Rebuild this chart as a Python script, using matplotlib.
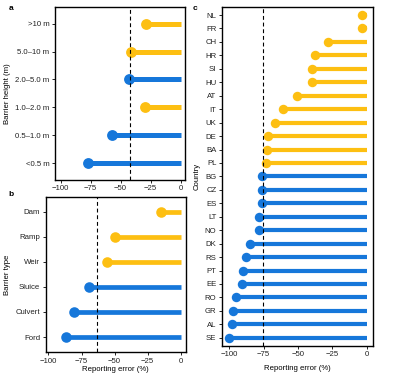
import matplotlib.pyplot as plt

plt.rcParams['font.family'] = ['Liberation Sans', 'DejaVu Sans']
plt.rcParams['font.size'] = 5.6

YELLOW = '#FDBF12'
BLUE = '#1677DA'

# panel a: barrier height
height_labels = ['>10 m', '5.0–10 m', '2.0–5.0 m', '1.0–2.0 m', '0.5–1.0 m', '<0.5 m']
height_error = [-29, -41, -43, -30, -57, -77]
height_mean = -42

# panel b: barrier type
type_labels = ['Dam', 'Ramp', 'Weir', 'Sluice', 'Culvert', 'Ford']
type_error = [-15, -50, -56, -69, -81, -87]
type_mean = -63

# panel c: country
country_labels = ['NL', 'FR', 'CH', 'HR', 'SI', 'HU', 'AT', 'IT', 'UK', 'DE', 'BA', 'PL', 'BG',
                  'CZ', 'ES', 'LT', 'NO', 'DK', 'RS', 'PT', 'EE', 'RO', 'GR', 'AL', 'SE']
country_error = [-3, -3, -28, -37.5, -40, -40, -51, -60.5, -67, -71.5, -72.5, -73.5, -76.5,
                 -76.5, -76.5, -78, -78, -85, -87.5, -90, -91, -95, -97, -98, -100]
country_mean = -75.5


def lollipop(ax, labels, values, mean, xlim, dot, lw):
    n = len(labels)
    ys = list(range(n - 1, -1, -1))
    for y, v in zip(ys, values):
        c = YELLOW if v > mean else BLUE
        ax.plot([v, 0], [y, y], color=c, lw=lw, solid_capstyle='butt', zorder=2)
        ax.plot(v, y, 'o', color=c, ms=dot, mew=0, zorder=3)
    ax.axvline(mean, color='black', lw=0.8, ls=(0, (3.5, 2.5)), zorder=4)
    ax.set_yticks(ys)
    ax.set_yticklabels(labels)
    ax.set_ylim(-0.6, n - 0.4)
    ax.set_xlim(*xlim)
    ax.set_xticks([-100, -75, -50, -25, 0])
    ax.set_xticklabels(['−100', '−75', '−50', '−25', '0'])
    ax.tick_params(length=2, width=0.6, pad=2, colors='black', labelcolor='#222222')
    for s in ax.spines.values():
        s.set_linewidth(1.0)


fig = plt.figure(figsize=(3.95, 3.86), dpi=100)

ax_a = fig.add_axes([0.139, 0.534, 0.329, 0.448])
lollipop(ax_a, height_labels, height_error, height_mean, (-104.7, 3.6), 7.8, 3.6)
ax_a.set_ylabel('Barrier height (m)', labelpad=3)

ax_b = fig.add_axes([0.116, 0.088, 0.354, 0.402])
lollipop(ax_b, type_labels, type_error, type_mean, (-102, 3.8), 7.6, 3.4)
ax_b.set_ylabel('Barrier type', labelpad=3)
ax_b.set_xlabel('Reporting error (%)', labelpad=1)

ax_c = fig.add_axes([0.562, 0.104, 0.382, 0.878])
lollipop(ax_c, country_labels, country_error, country_mean, (-105.3, 4.6), 6.8, 3.0)
ax_c.set_ylabel('Country', labelpad=3)
ax_c.set_xlabel('Reporting error (%)', labelpad=5)

fig.text(0.022, 0.977, 'a', fontsize=6, fontweight='bold', va='center')
fig.text(0.022, 0.497, 'b', fontsize=6, fontweight='bold', va='center')
fig.text(0.487, 0.977, 'c', fontsize=6, fontweight='bold', va='center')

fig.savefig('out.png', dpi=100)
